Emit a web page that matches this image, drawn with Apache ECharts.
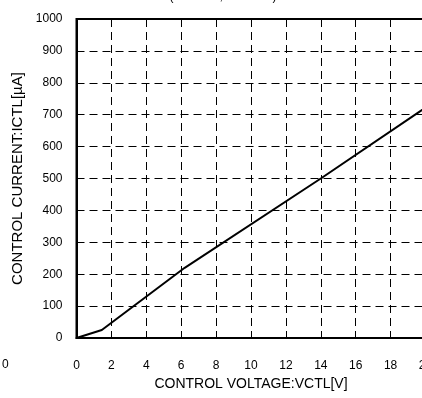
<!DOCTYPE html>
<html>
<head>
<meta charset="utf-8">
<script src="https://cdn.jsdelivr.net/npm/echarts@6/dist/echarts.min.js"></script>
<style>
  html, body { margin: 0; padding: 0; background: #fff; }
  #chart { width: 422px; height: 398px; }
</style>
</head>
<body>
<div id="chart"></div>
<script>
// Control voltage (V) vs. control current (µA)
const vctl = [0, 1.45, 6.2, 14, 20];
const ictl = [0, 25, 220, 500, 722];
const xTicks = [0, 2, 4, 6, 8, 10, 12, 14, 16, 18, 20];
const yTicks = [0, 100, 200, 300, 400, 500, 600, 700, 800, 900, 1000];

const FONT = '"Liberation Sans", Arial, sans-serif';
const chart = echarts.init(document.getElementById('chart'), null, { renderer: 'canvas' });

chart.setOption({
  animation: false,
  backgroundColor: '#fff',
  title: {
    text: '(VCC=5V, Ta=25°C)',
    left: 218, textAlign: 'center', top: -14,
    textStyle: { fontFamily: FONT, fontSize: 12, fontWeight: 'normal', color: '#000' }
  },
  grid: {
    left: 76.5, width: 349, top: 19, bottom: 60,
    outerBoundsMode: 'none', containLabel: false,
    show: true, borderColor: '#000', borderWidth: 2, backgroundColor: 'transparent'
  },
  xAxis: {
    type: 'value', min: xTicks[0], max: xTicks[xTicks.length - 1], interval: 2,
    name: 'CONTROL VOLTAGE:VCTL[V]', nameLocation: 'middle', nameGap: 39,
    nameTextStyle: { fontFamily: FONT, fontSize: 14, color: '#000', align: 'center' },
    axisLine: { show: true, lineStyle: { color: '#000', width: 2 } },
    axisTick: { show: false },
    axisLabel: { margin: 22, fontFamily: FONT, fontSize: 12, color: '#000', showMaxLabel: true,
                 formatter: v => String(v) },
    splitLine: { show: true, lineStyle: { color: '#000', width: 1, type: [8, 5] } }
  },
  yAxis: {
    type: 'value', min: yTicks[0], max: yTicks[yTicks.length - 1], interval: 100,
    name: 'CONTROL CURRENT:ICTL[µA]', nameLocation: 'middle', nameGap: 51, nameRotate: 90,
    nameTextStyle: { fontFamily: FONT, fontSize: 15, color: '#000' },
    axisLine: { show: true, lineStyle: { color: '#000', width: 2 } },
    axisTick: { show: false },
    axisLabel: { margin: 14, fontFamily: FONT, fontSize: 12, color: '#000',
                 formatter: v => String(v) },
    splitLine: { show: true, lineStyle: { color: '#000', width: 1, type: [8, 5] } }
  },
  graphic: [{
    type: 'text', left: 2, top: 359,
    style: { text: '0', fontFamily: FONT, fontSize: 12, fill: '#000' }
  }],
  series: [{
    type: 'line',
    data: vctl.map((v, i) => [v, ictl[i]]),
    showSymbol: false,
    lineStyle: { color: '#000', width: 2 },
    z: 5
  }]
});
</script>
</body>
</html>
